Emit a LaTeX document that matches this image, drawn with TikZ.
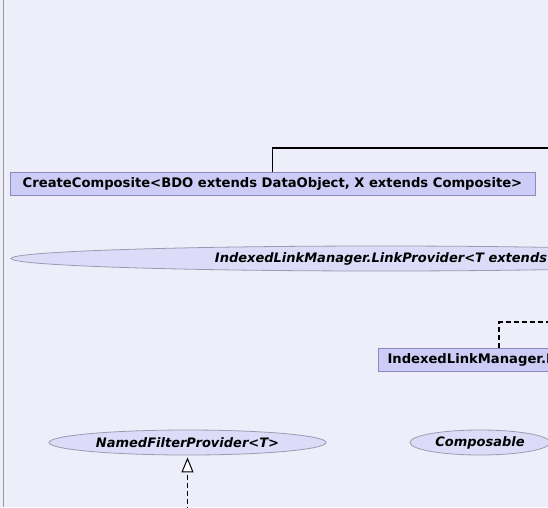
\documentclass[tikz,border=0pt]{standalone}
\usepackage{fontspec}
\setmainfont{DejaVu Sans}
\usetikzlibrary{arrows.meta,shapes.geometric}

\definecolor{pagebg}{HTML}{EEEEFA}
\definecolor{boxfill}{HTML}{CCCCF7}
\definecolor{boxline}{HTML}{8A8AC0}
\definecolor{ovalfill}{HTML}{DCDCF9}
\definecolor{ovalline}{HTML}{9A9AB2}

\tikzset{
	classbox/.style={rectangle, draw=boxline, fill=boxfill, line width=1pt, minimum height=23pt, inner xsep=9pt, inner ysep=0pt},
	iface/.style={ellipse, draw=ovalline, fill=ovalfill, line width=0.8pt, minimum height=25pt, inner sep=0pt, font=\fontsize{13}{15}\selectfont\bfseries\itshape},
	assoc/.style={draw=black, line width=1.3pt},
	dep/.style={draw=black, line width=1.2pt, dash pattern=on 5pt off 3pt},
	realize/.style={dep, -{Triangle[length=15pt, width=12pt, fill=white, line width=1pt]}, shorten >=2pt},
}

\begin{document}
\begin{tikzpicture}[x=1pt, y=-1pt, every node/.style={font=\fontsize{13.15}{15}\selectfont\bfseries}]
	\useasboundingbox (0,0) rectangle (548,507);
	\fill[pagebg] (0,0) rectangle (548,507);
	\clip (0,0) rectangle (548,507);
	\draw[gray!80, line width=1pt] (3,0) -- (3,507);

	\node[classbox, minimum width=525pt] (cc) at (272.5,183.5) {CreateComposite<BDO extends DataObject, X extends Composite>};
	\node[iface, minimum width=740pt] (lp) at (381,258.5) {IndexedLinkManager.LinkProvider<T extends};
	\node[classbox, anchor=west, text width=200pt, align=left] (ilm) at (378,359.5) {IndexedLinkManager.L};
	\node[iface, minimum width=277pt] (nfp) at (187.5,442.5) {NamedFilterProvider<T>};
	\node[iface, minimum width=140pt] (comp) at (480,442.5) {Composable};

	% free ends leave the visible part
	\coordinate (ccout) at (560,148);
	\coordinate (ilmout) at (560,322);
	\coordinate (nfpfoot) at (187.5,520);

	\draw[assoc] (cc.north) |- (ccout);
	\draw[dep] ([xshift=121pt]ilm.north west) |- (ilmout);
	\draw[realize] (nfpfoot) -- (nfp);
\end{tikzpicture}
\end{document}
